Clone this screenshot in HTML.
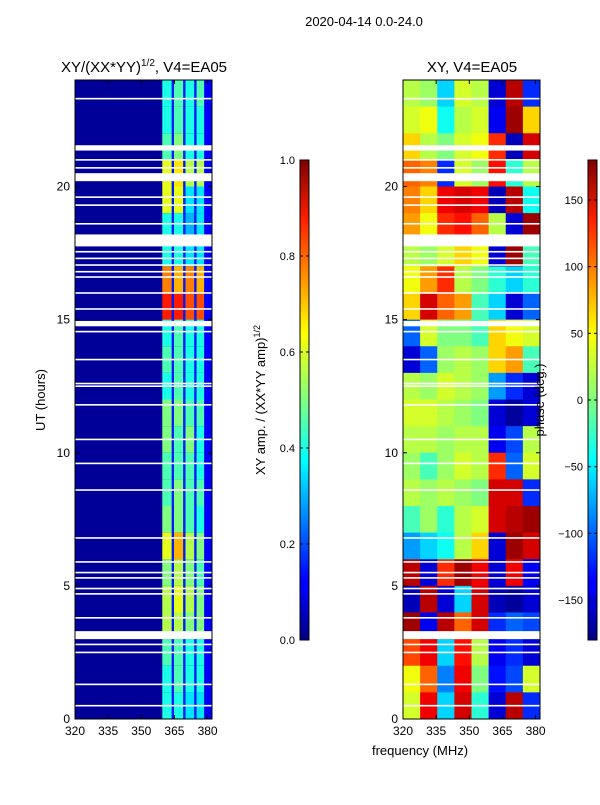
<!DOCTYPE html>
<html><head><meta charset="utf-8">
<style>
body{margin:0;background:#fff;font-family:"Liberation Sans",sans-serif;}
svg text{font-family:"Liberation Sans",sans-serif;fill:#000;}
</style></head>
<body>
<svg id="fig" width="600" height="800" xmlns="http://www.w3.org/2000/svg">
<defs>
<linearGradient id="jet" x1="0" y1="1" x2="0" y2="0">
<stop offset="0" stop-color="#00007f"/><stop offset="0.11" stop-color="#0000ff"/>
<stop offset="0.125" stop-color="#0000ff"/><stop offset="0.34" stop-color="#00dcff"/>
<stop offset="0.375" stop-color="#00ffff"/><stop offset="0.5" stop-color="#80ff80"/>
<stop offset="0.64" stop-color="#ffff00"/><stop offset="0.875" stop-color="#ff2000"/>
<stop offset="1" stop-color="#7f0000"/></linearGradient>
</defs>
<text x="364" y="26" font-size="13" text-anchor="middle">2020-04-14 0.0-24.0</text>
<text x="144" y="72" font-size="15" text-anchor="middle">XY/(XX*YY)<tspan font-size="10" dy="-6">1/2</tspan><tspan dy="6">, V4=EA05</tspan></text>
<text x="472" y="72" font-size="15" text-anchor="middle">XY, V4=EA05</text>
<text transform="translate(45,400) rotate(-90)" font-size="13" text-anchor="middle">UT (hours)</text>
<text x="420" y="755" font-size="13" text-anchor="middle">frequency (MHz)</text>
<g id="left"></g>
<g id="right"></g>
<g id="cb"></g>
</svg>
<script>
// ---- data ----
const utHours = [23,22,21,20,19,18,17,16,15,14,13,12,11,10,9,8,7,6,5,4,3,2,1,0];
const subbandEdges = [359.5,363.8,364.8,369,370,374,375,378.5];
const ampRows = [
[.4,.45,.4,.45],[.4,.45,.4,.4],[.45,.5,.4,.4],[.6,.65,.55,.55],[.6,.6,.35,.35],
[.4,.4,.3,.35],[.4,.4,.35,.35],[.75,.7,.75,.7],[.85,.85,.8,.8],[.4,.45,.4,.4],
[.45,.45,.4,.4],[.4,.45,.4,.4],[.5,.5,.45,.45],[.5,.45,.5,.4],[.45,.45,.45,.4],
[.45,.5,.45,.45],[.5,.5,.45,.4],[.6,.7,.55,.5],[.5,.55,.5,.45],[.55,.6,.55,.5],
[.55,.55,.5,.5],[.45,.45,.4,.4],[.4,.45,.4,.4],[.4,.4,.35,.35]];
const phaseFreqs = [320,327.75,335.5,343.25,351,358.75,366.5,374.25,382];
const phaseRows = [
[20,10,-60,30,20,-150,160,-120],[30,40,-40,20,30,-140,170,60],[60,20,0,30,40,120,-160,150],
[100,90,-120,30,10,130,-30,20],[90,60,140,150,140,-160,160,-40],[80,40,120,130,100,20,-150,170],
[20,10,30,60,40,-150,170,-20],[40,80,120,20,0,-30,-60,-30],[60,150,100,80,-20,-60,-150,-100],
[-100,30,0,0,-20,60,40,30],[-150,-100,10,20,10,60,80,-20],[20,10,30,20,10,-80,-120,-150],
[30,30,20,10,0,-150,-170,-150],[20,20,10,20,20,-140,-110,20],[10,-20,10,30,20,120,-100,30],
[20,10,20,10,0,150,150,-120],[-20,10,-30,20,30,150,160,170],[-80,-60,-40,20,60,-150,170,150],
[160,-150,120,170,140,-150,140,-140],[-160,160,-150,-60,150,-160,-170,-150],[170,-140,160,100,150,-120,-100,-110],
[110,140,-60,130,20,-140,-120,-150],[40,100,-90,140,0,-130,-110,30],[30,140,-60,150,-30,-150,160,-120]];
const gaps = [[21.35,21.55],[20.2,20.5],[17.75,18.2],[14.75,14.95],[3.0,3.3]];
const thinGaps = [23.3,21.0,20.7,19.6,19.3,18.6,17.55,17.3,17.05,16.8,16.6,16.0,15.4,14.55,13.5,12.5,12.6,11.8,10.5,9.6,8.6,6.8,5.9,5.5,5.3,4.9,4.7,3.8,2.8,2.5,1.3,0.5];
const xTicks = [320,335,350,365,380];
const yTicks = [0,5,10,15,20];
const ampTicks = [0,0.2,0.4,0.6,0.8,1.0];
const phaseTicks = [-150,-100,-50,0,50,100,150];
// ---- scales ----
const NS='http://www.w3.org/2000/svg';
const Y0=719, Y1=80;
const yS = u => Y0 - (u/24)*(Y0-Y1);
function xS(x0){return f => x0 + (f-320)/(382-320)*137;}
function jet(v){v=Math.max(0,Math.min(1,v));
 const r=Math.max(0,Math.min(1,1.5-Math.abs(4*v-3))),g=Math.max(0,Math.min(1,1.5-Math.abs(4*v-2))),b=Math.max(0,Math.min(1,1.5-Math.abs(4*v-1)));
 return `rgb(${Math.round(r*255)},${Math.round(g*255)},${Math.round(b*255)})`;}
function el(p,tag,at){const e=document.createElementNS(NS,tag);for(const k in at)e.setAttribute(k,at[k]);p.appendChild(e);return e;}
function rect(p,x,y,w,h,fill){return el(p,'rect',{x:x,y:y,width:w,height:h,fill:fill});}
function axes(g,x0){
 const xs=xS(x0);
 gaps.forEach(gp=>rect(g,x0,yS(gp[1]),137,yS(gp[0])-yS(gp[1]),'#fff'));
 thinGaps.forEach(t=>rect(g,x0,yS(t)-0.8,137,1.6,'#fff'));
 el(g,'rect',{x:x0,y:Y1,width:137,height:Y0-Y1,fill:'none',stroke:'#000','stroke-width':1});
 xTicks.forEach(t=>{const x=xs(t);
  el(g,'line',{x1:x,y1:Y0,x2:x,y2:Y0-4,stroke:'#000'});el(g,'line',{x1:x,y1:Y1,x2:x,y2:Y1+4,stroke:'#000'});
  const tx=el(g,'text',{x:x,y:Y0+16,'font-size':12,'text-anchor':'middle'});tx.textContent=t;
  
  });
 yTicks.forEach(t=>{const y=yS(t);
  el(g,'line',{x1:x0,y1:y,x2:x0+4,y2:y,stroke:'#000'});el(g,'line',{x1:x0+137,y1:y,x2:x0+133,y2:y,stroke:'#000'});
  const tx=el(g,'text',{x:x0-5,y:y+4,'font-size':12,'text-anchor':'end'});tx.textContent=t;
  
  });
}
// left heatmap
const L=document.getElementById('left'); const xl=xS(75);
rect(L,75,Y1,137,Y0-Y1,jet(0.025));
utHours.forEach((u,i)=>{
 ampRows[i].forEach((v,j)=>{
  const c=rect(L,xl(subbandEdges[2*j]),yS(u+1),xl(subbandEdges[2*j+1])-xl(subbandEdges[2*j]),yS(u)-yS(u+1),jet(v));
  
  
 });
 for(let j=0;j<3;j++){rect(L,xl(subbandEdges[2*j+1]),yS(u+1),xl(subbandEdges[2*j+2])-xl(subbandEdges[2*j+1]),yS(u)-yS(u+1),jet(0.15));}
 rect(L,xl(subbandEdges[7]),yS(u+1),xl(382)-xl(subbandEdges[7]),yS(u)-yS(u+1),jet(0.12));
});
axes(L,75);
// right heatmap
const R=document.getElementById('right'); const xr=xS(403);
utHours.forEach((u,i)=>{
 phaseRows[i].forEach((v,j)=>{
  const c=rect(R,xr(phaseFreqs[j]),yS(u+1),xr(phaseFreqs[j+1])-xr(phaseFreqs[j])+0.5,yS(u)-yS(u+1)+0.5,jet((v+180)/360));
  
  
 });
});
axes(R,403);
// colorbars
const C=document.getElementById('cb');
function cbar(x,ticks,lo,hi,fmt,label,lx){
 el(C,'rect',{x:x,y:160,width:9,height:480,fill:'url(#jet)',stroke:'#000','stroke-width':1});
 ticks.forEach(t=>{const y=640-(t-lo)/(hi-lo)*480;
  el(C,'line',{x1:x,y1:y,x2:x+3,y2:y,stroke:'#000'});el(C,'line',{x1:x+9,y1:y,x2:x+6,y2:y,stroke:'#000'});
  const tx=el(C,'text',{x:x-5,y:y+4,'font-size':11,'text-anchor':'end'});tx.textContent=fmt(t);
  
  });
 const lb=el(C,'text',{transform:`translate(${lx},400) rotate(-90)`,'font-size':13,'text-anchor':'middle'});
 lb.innerHTML=label;
 
 
}
cbar(300,ampTicks,0,1,t=>t.toFixed(1),'XY amp. / (XX*YY amp)<tspan font-size="9" dy="-5">1/2</tspan>',265);
cbar(588,phaseTicks,-180,180,t=>t<0?'\u2212'+(-t):''+t,'phase (deg.)',544);
</script>
</body></html>
